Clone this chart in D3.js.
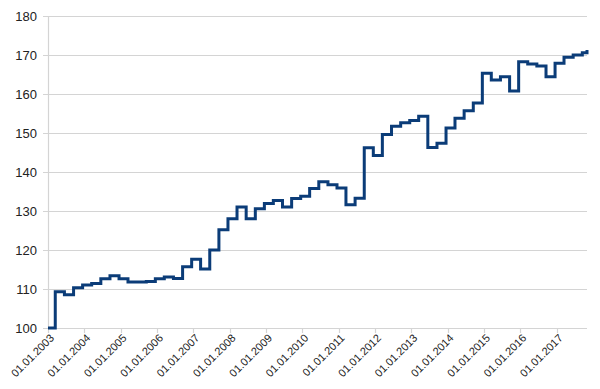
<!DOCTYPE html>
<html>
<head>
<meta charset="utf-8">
<script src="https://cdn.jsdelivr.net/npm/d3@7"></script>
<style>
  body { margin: 0; background: #fff; }
  text { font-family: "Liberation Sans", Arial, sans-serif; fill: #222; }
</style>
</head>
<body>
<div id="app"></div>
<script>
// quarterly step dates (value holds until the next date)
const dates = [
  '2003-01-01', '2003-03-15', '2003-06-15', '2003-09-15',
  '2003-12-15', '2004-03-15', '2004-06-15', '2004-09-15',
  '2004-12-15', '2005-03-15', '2005-06-15', '2005-09-15',
  '2005-12-15', '2006-03-15', '2006-06-15', '2006-09-15',
  '2006-12-15', '2007-03-15', '2007-06-15', '2007-09-15',
  '2007-12-15', '2008-03-15', '2008-06-15', '2008-09-15',
  '2008-12-15', '2009-03-15', '2009-06-15', '2009-09-15',
  '2009-12-15', '2010-03-15', '2010-06-15', '2010-09-15',
  '2010-12-15', '2011-03-15', '2011-06-15', '2011-09-15',
  '2011-12-15', '2012-03-15', '2012-06-15', '2012-09-15',
  '2012-12-15', '2013-03-15', '2013-06-15', '2013-09-15',
  '2013-12-15', '2014-03-15', '2014-06-15', '2014-09-15',
  '2014-12-15', '2015-03-15', '2015-06-15', '2015-09-15',
  '2015-12-15', '2016-03-15', '2016-06-15', '2016-09-15',
  '2016-12-15', '2017-03-15', '2017-06-15', '2017-09-15',
  '2017-11-01'
];

const values = [
  100.0, 109.3, 108.5, 110.3,
  111.0, 111.4, 112.6, 113.4,
  112.6, 111.8, 111.8, 111.9,
  112.6, 113.1, 112.7, 115.7,
  117.6, 115.1, 120.0, 125.2,
  128.0, 131.0, 128.0, 130.6,
  131.9, 132.7, 131.0, 133.2,
  133.8, 135.8, 137.5, 136.7,
  135.9, 131.6, 133.3, 146.2,
  144.2, 149.6, 151.7, 152.6,
  153.2, 154.3, 146.3, 147.4,
  151.3, 153.8, 155.7, 157.7,
  165.3, 163.6, 164.4, 160.8,
  168.3, 167.7, 167.2, 164.4,
  167.9, 169.4, 170.0, 170.6,
  171.3
];

const yTicks = [100, 110, 120, 130, 140, 150, 160, 170, 180];
const xTickYears = [2003, 2004, 2005, 2006, 2007, 2008, 2009, 2010, 2011, 2012, 2013, 2014, 2015, 2016, 2017];

const width = 600;
const height = 389;
const margin = { top: 16, right: 13, bottom: 61, left: 48 };

const parse = d3.timeParse('%Y-%m-%d');
const data = dates.map((d, i) => ({ date: parse(d), value: values[i] }));

const svg = d3.select('#app')
  .append('svg')
  .attr('width', width)
  .attr('height', height);

const x = d3.scaleTime()
  .domain([parse('2003-01-01'), parse('2017-11-01')])
  .range([margin.left, width - margin.right]);

const y = d3.scaleLinear()
  .domain([100, 180])
  .range([height - margin.bottom, margin.top]);

// gridlines
svg.append('g')
  .selectAll('line')
  .data(yTicks)
  .join('line')
  .attr('x1', margin.left - 5)
  .attr('x2', width - margin.right)
  .attr('y1', d => Math.round(y(d)) + 0.5)
  .attr('y2', d => Math.round(y(d)) + 0.5)
  .attr('stroke', '#d4d4d4')
  .attr('stroke-width', 1.2);

// y axis line
svg.append('line')
  .attr('x1', margin.left + 0.5)
  .attr('x2', margin.left + 0.5)
  .attr('y1', y(180))
  .attr('y2', y(100))
  .attr('stroke', '#d4d4d4')
  .attr('stroke-width', 1.2);

// y labels
svg.append('g')
  .selectAll('text')
  .data(yTicks)
  .join('text')
  .attr('x', 37)
  .attr('y', d => y(d))
  .attr('dy', '0.35em')
  .attr('text-anchor', 'end')
  .style('font-size', '13px')
  .text(d => d);

// x ticks + labels
const xTicks = xTickYears.map(yr => new Date(yr, 0, 1));
const fmt = d3.timeFormat('%d.%m.%Y');

svg.append('g')
  .selectAll('line')
  .data(xTicks)
  .join('line')
  .attr('x1', d => Math.round(x(d)) + 0.5)
  .attr('x2', d => Math.round(x(d)) + 0.5)
  .attr('y1', y(100))
  .attr('y2', y(100) + 5)
  .attr('stroke', '#d4d4d4')
  .attr('stroke-width', 1.2);

svg.append('g')
  .selectAll('text')
  .data(xTicks)
  .join('text')
  .attr('transform', d => `translate(${x(d) + 4},${y(100) + 8}) rotate(-45)`)
  .attr('text-anchor', 'end')
  .attr('dy', '0.35em')
  .style('font-size', '11px')
  .text(d => fmt(d));

// step line
const line = d3.line()
  .x(d => x(d.date))
  .y(d => y(d.value))
  .curve(d3.curveStepAfter);

svg.append('path')
  .datum(data)
  .attr('d', line)
  .attr('fill', 'none')
  .attr('stroke', '#0b3c78')
  .attr('stroke-width', 3)
  .attr('stroke-linejoin', 'miter');
</script>
</body>
</html>
